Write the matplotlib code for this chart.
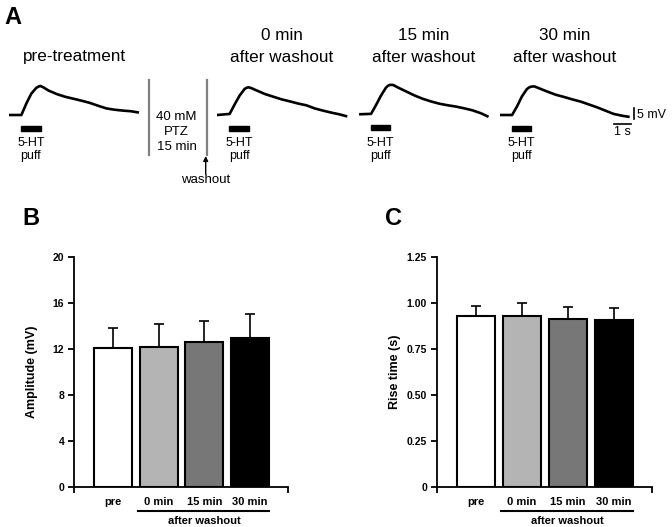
import numpy as np
import matplotlib.pyplot as plt
from matplotlib.patches import Rectangle

plt.rcParams['font.family'] = ['Liberation Sans', 'DejaVu Sans']

W, H = 672, 527

# ---- panel A: example traces (time in s, potential in mV above baseline)
t = [0, 0.75, 1.05, 1.35, 1.65, 1.78, 1.9, 2.1, 2.4, 2.9, 3.4, 3.9, 4.4, 4.9, 5.4, 5.9, 6.4, 6.9, 7.4, 7.8]
v_pre = [0, 0, 5.2, 9.7, 12.3, 12.9, 13.2, 12.5, 11.1, 9.5, 8.3, 7.4, 6.5, 5.5, 4.2, 3.0, 2.4, 2.0, 1.7, 1.2]
v_0 = [0, 0.5, 4.8, 8.8, 11.8, 12.4, 12.6, 12.1, 11.1, 9.5, 8.3, 7.1, 6.2, 5.2, 4.4, 3.0, 2.0, 1.1, 0.3, -0.5]
v_15 = [0, 0.2, 4.2, 8.5, 12.1, 13.0, 13.4, 13.3, 12.1, 10.3, 8.5, 7.0, 5.8, 4.8, 4.1, 3.5, 2.7, 1.8, 0.5, -0.9]
v_30 = [0, 0, 3.9, 8.5, 11.8, 12.5, 12.9, 13.0, 12.1, 10.6, 9.2, 8.2, 7.1, 6.1, 4.8, 3.5, 2.0, 0.5, -0.3, -0.8]
traces = [v_pre, v_0, v_15, v_30]
titles = [('', 'pre-treatment'), ('0 min', 'after washout'),
          ('15 min', 'after washout'), ('30 min', 'after washout')]
puff_on, puff_off = 0.72, 1.92

# ---- panels B, C
groups = ['pre', '0 min', '15 min', '30 min']
amp_mean = [12.06, 12.15, 12.6, 12.98]
amp_sem = [1.77, 2.05, 1.86, 2.02]
rise_mean = [0.931, 0.928, 0.911, 0.908]
rise_sem = [0.053, 0.070, 0.069, 0.067]
bar_colors = ['white', '#b4b4b4', '#777777', 'black']

fig = plt.figure(figsize=(W / 100, H / 100), dpi=100)


def px_axes(x, y, w, h):
    return fig.add_axes([x / W, 1 - (y + h) / H, w / W, h / H])


ov = fig.add_axes([0, 0, 1, 1])
ov.set_xlim(0, W)
ov.set_ylim(H, 0)
ov.axis('off')

# trace placement (px) and scale: 16.5 px per s, 2.2 px per mV
px_s, px_mv = 16.5, 2.2
x0s = [9, 217.3, 358.7, 499.7]
bases = [115, 115, 114.3, 115]
title_x = [74.3, 281.7, 423.3, 564.3]

trace_axes = []
for i, v in enumerate(traces):
    x0, b = x0s[i], bases[i]
    ax = px_axes(x0, b - 15 * px_mv, 8 * px_s, 23 * px_mv)
    ax.set_xlim(0, 8)
    ax.set_ylim(-8, 15)
    ax.axis('off')
    ax.plot(t, v, color='black', lw=1.9, solid_joinstyle='round')
    ax.add_patch(Rectangle((puff_on, -7.3), puff_off - puff_on, 2.3, color='black'))
    trace_axes.append(ax)
    xc = x0 + (puff_on + puff_off) / 2 * px_s
    ov.text(xc, 146.5, '5-HT', ha='center', va='baseline', fontsize=9)
    ov.text(xc, 158.5, 'puff', ha='center', va='baseline', fontsize=9)
    l1, l2 = titles[i]
    if l1:
        ov.text(title_x[i], 40, l1, ha='center', va='baseline', fontsize=12.3)
    ov.text(title_x[i], 61.5, l2, ha='center', va='baseline', fontsize=12.3)

# scale bars on last trace
ax = trace_axes[-1]
ax.plot([8.16, 8.16], [-1.95, 3.05], color='black', lw=1.2, clip_on=False)
ax.plot([6.95, 7.95], [-4.1, -4.1], color='black', lw=1.2, clip_on=False)
ov.text(636.7, 118.5, '5 mV', ha='left', va='baseline', fontsize=9)
ov.text(622.8, 135, '1 s', ha='center', va='baseline', fontsize=9)

# treatment separators
for xs in [149, 206.7]:
    ov.plot([xs, xs], [80, 155], color='#808080', lw=1.6)
for txt, yb in [('40 mM', 120), ('PTZ', 135), ('15 min', 150)]:
    ov.text(176.7, yb, txt, ha='center', va='baseline', fontsize=9.5)
ov.annotate('', xy=(205.7, 156), xytext=(205.7, 174),
            arrowprops=dict(arrowstyle='-|>', color='black', lw=1,
                            mutation_scale=7, shrinkA=0, shrinkB=0))
ov.text(205.8, 183, 'washout', ha='center', va='baseline', fontsize=9.5)

# panel letters
ov.text(4, 24, 'A', fontsize=17, fontweight='bold', va='baseline')
ov.text(22.5, 225, 'B', fontsize=17, fontweight='bold', va='baseline')
ov.text(385, 225, 'C', fontsize=17, fontweight='bold', va='baseline')


def bar_panel(ax, mean, sem, ylim, yticks, ylabels, ylabel):
    x = np.arange(len(groups))
    xl = (-0.853, 3.83)
    ax.bar(x, mean, width=0.83, color=bar_colors, edgecolor='black', lw=1.5, zorder=2)
    ax.errorbar(x, mean, yerr=[[0] * len(sem), sem], fmt='none', ecolor='black',
                elinewidth=1.2, capsize=3.6, capthick=1.2, zorder=1)
    ax.set_xlim(*xl)
    ax.set_ylim(*ylim)
    for s in ['top', 'right']:
        ax.spines[s].set_visible(False)
    for s in ['left', 'bottom']:
        ax.spines[s].set_linewidth(1.3)
    ax.set_yticks(yticks, ylabels)
    ax.tick_params(axis='y', length=4, width=1.3, pad=3, labelsize=7.5)
    ax.set_xticks(x, groups)
    ax.set_xticks(list(xl), minor=True)
    ax.tick_params(axis='x', which='major', length=0, pad=7, labelsize=8)
    ax.tick_params(axis='x', which='minor', length=4, width=1.3)
    for lab in ax.get_xticklabels() + ax.get_yticklabels():
        lab.set_fontweight('bold')
    ax.set_ylabel(ylabel, fontsize=9, fontweight='bold', va='center')
    ax.yaxis.set_label_coords(-42 / 215, 0.5)
    tr = ax.get_xaxis_transform()
    ax.plot([0.55, 3.42], [-0.103, -0.103], transform=tr, clip_on=False,
            color='black', lw=1.5)
    ax.text(2.0, -0.159, 'after washout', transform=tr, ha='center', va='baseline',
            fontsize=8, fontweight='bold')


axB = px_axes(74, 257, 214, 230)
bar_panel(axB, amp_mean, amp_sem, (0, 20), [0, 4, 8, 12, 16, 20],
          ['0', '4', '8', '12', '16', '20'], 'Amplitude (mV)')
axC = px_axes(436.7, 257, 215, 230)
bar_panel(axC, rise_mean, rise_sem, (0, 1.25), [0, 0.25, 0.5, 0.75, 1.0, 1.25],
          ['0', '0.25', '0.50', '0.75', '1.00', '1.25'], 'Rise time (s)')

fig.savefig('out.png', dpi=100)
